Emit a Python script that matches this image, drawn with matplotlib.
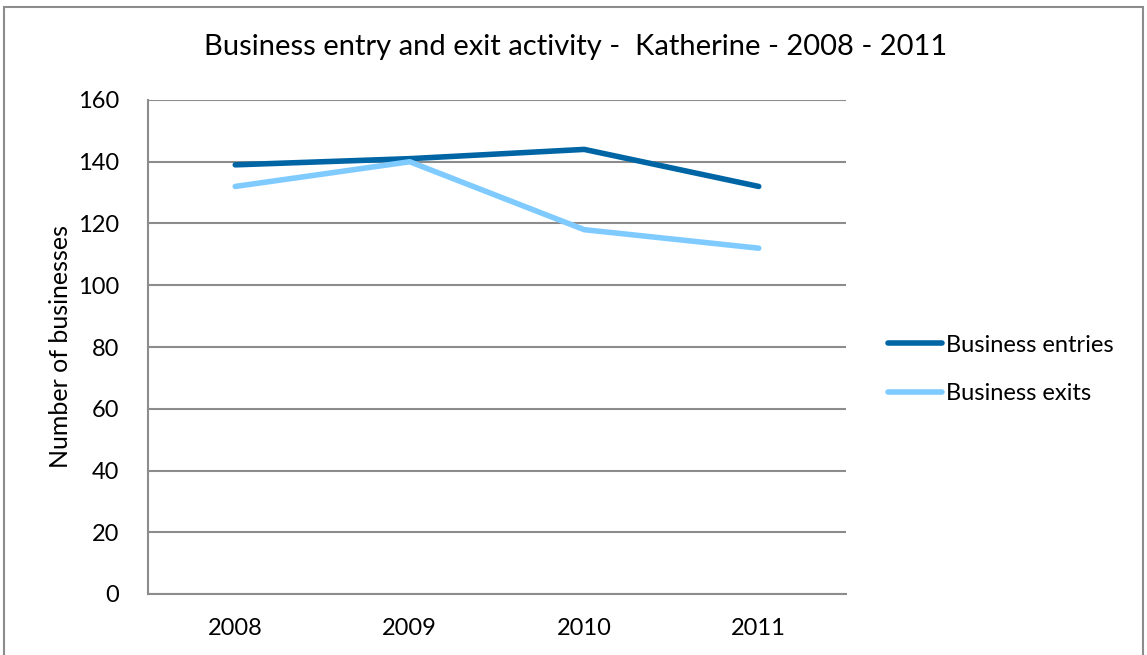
import matplotlib.pyplot as plt
from matplotlib.patches import Rectangle

years = ["2008", "2009", "2010", "2011"]
entries = [139, 141, 144, 132]
exits = [132, 140, 118, 112]

plt.rcParams['font.family'] = ['Lato', 'DejaVu Sans']

fig = plt.figure(figsize=(11.47, 6.55), dpi=100)
fig.patch.set_facecolor('white')
# outer chart frame
fig.patches.append(Rectangle((4 / 1147, -0.05), 1139 / 1147, 1 - 7 / 655 + 0.05,
                             transform=fig.transFigure, fill=False,
                             edgecolor='#8c8c8c', linewidth=1.5))

ax = fig.add_axes([148 / 1147, 1 - 594 / 655, 698 / 1147, 494 / 655])
x = range(len(years))
ax.plot(x, entries, color='#0065a4', linewidth=4, solid_capstyle='round', label='Business entries')
ax.plot(x, exits, color='#7fcbff', linewidth=4, solid_capstyle='round', label='Business exits')

ax.set_xlim(-0.5, 3.5)
ax.set_ylim(0, 160)
ax.set_yticks(range(0, 161, 20))
ax.set_xticks(list(x))
ax.set_xticklabels(years)
ax.yaxis.grid(True, color='#8c8c8c', linewidth=1.5)
ax.set_axisbelow(True)
for s in ['top', 'right']:
    ax.spines[s].set_visible(False)
for s in ['left', 'bottom']:
    ax.spines[s].set_color('#8c8c8c')
    ax.spines[s].set_linewidth(1.5)
ax.tick_params(axis='both', length=0, labelsize=17)
ax.tick_params(axis='y', pad=21)
ax.tick_params(axis='x', pad=17)

ax.set_ylabel('Number of businesses', fontsize=18, labelpad=4)
fig.text(576 / 1147, 1 - 47 / 655, 'Business entry and exit activity -  Katherine - 2008 - 2011',
         ha='center', va='center', fontsize=21)

ax.legend(loc='center left', bbox_to_anchor=(1.03, 0.455), frameon=False, fontsize=17,
          handlelength=2.3, handletextpad=0.15, labelspacing=1.15)

fig.savefig('out.png', dpi=100)
